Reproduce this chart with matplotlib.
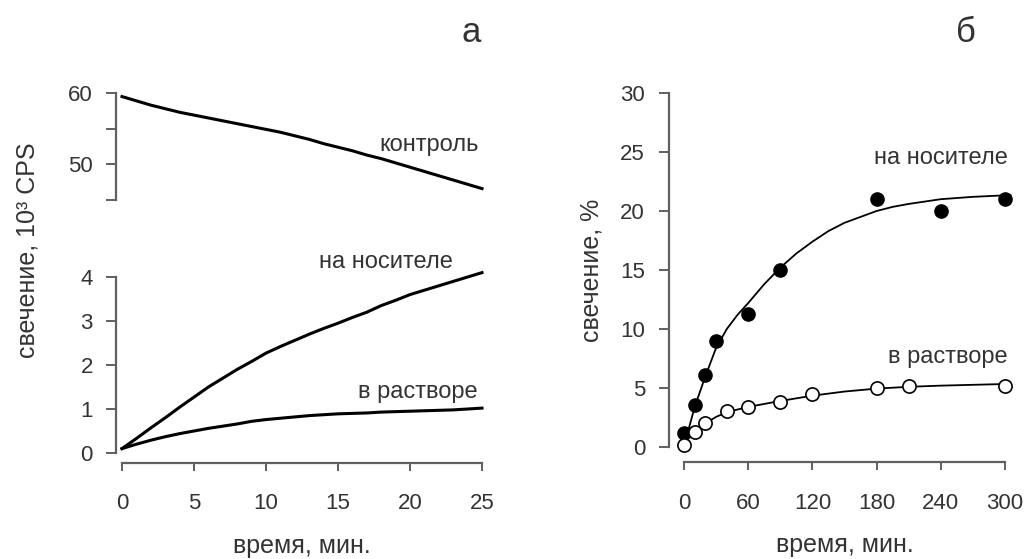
import numpy as np
import matplotlib
matplotlib.use("Agg")
import matplotlib.pyplot as plt

plt.rcParams['font.family'] = ['Liberation Sans', 'DejaVu Sans']

# панель а: запись свечения, каждые 1 мин
t_min = list(range(26))
control = [59.5, 58.9, 58.3, 57.8, 57.3, 56.9, 56.5, 56.1, 55.7, 55.3, 54.9,
           54.5, 54.0, 53.5, 52.9, 52.4, 51.9, 51.3, 50.8, 50.2, 49.6,
           49.0, 48.4, 47.8, 47.2, 46.6]
carrier = [0.1, 0.33, 0.57, 0.8, 1.04, 1.27, 1.5, 1.7, 1.9, 2.08, 2.27,
           2.42, 2.56, 2.7, 2.83, 2.95, 3.08, 3.2, 3.35, 3.47, 3.6,
           3.7, 3.8, 3.9, 4.0, 4.1]
solution = [0.1, 0.2, 0.29, 0.37, 0.44, 0.5, 0.56, 0.61, 0.66, 0.72, 0.76,
            0.79, 0.82, 0.85, 0.87, 0.89, 0.9, 0.91, 0.93, 0.94, 0.95,
            0.96, 0.97, 0.98, 1.0, 1.02]

# панель б: точки и сглаживающие кривые
t_pts_c = [0, 10, 20, 30, 60, 90, 180, 240, 300]
pts_c = [1.2, 3.6, 6.1, 9.0, 11.3, 15.0, 21.0, 20.0, 21.0]
t_pts_s = [0, 10, 20, 40, 60, 90, 120, 180, 210, 300]
pts_s = [0.2, 1.3, 2.0, 3.05, 3.4, 3.85, 4.5, 5.0, 5.2, 5.2]

t_fit_c = [1, 10, 20, 30, 40, 50, 60, 75, 90, 105, 120, 135, 150, 165, 180,
           195, 210, 225, 240, 270, 305]
fit_c = [0.4, 3.4, 6.0, 8.4, 10.0, 11.2, 12.2, 13.8, 15.2, 16.4, 17.4, 18.3,
         19.0, 19.5, 20.0, 20.35, 20.6, 20.8, 21.0, 21.2, 21.35]
t_fit_s = [0, 10, 20, 30, 40, 60, 90, 120, 150, 180, 210, 240, 270, 305]
fit_s = [0.4, 1.3, 2.0, 2.55, 2.95, 3.4, 3.9, 4.35, 4.7, 4.95, 5.1, 5.2,
         5.27, 5.35]

spine_col = '#606060'
text_col = '#333333'
tick_fs = 16
lab_fs = 18

fig = plt.figure(figsize=(10.28, 5.59), dpi=100)

def style(ax, left_out, bottom_out=None):
    for s in ['top', 'right']:
        ax.spines[s].set_visible(False)
    ax.spines['left'].set_position(('outward', left_out))
    ax.spines['left'].set_color(spine_col)
    ax.spines['left'].set_linewidth(1.6)
    if bottom_out is None:
        ax.spines['bottom'].set_visible(False)
        ax.tick_params(axis='x', bottom=False, labelbottom=False)
    else:
        ax.spines['bottom'].set_position(('outward', bottom_out))
        ax.spines['bottom'].set_color(spine_col)
        ax.spines['bottom'].set_linewidth(1.6)
    ax.tick_params(axis='y', direction='out', length=7, width=1.4,
                   color=spine_col, labelsize=tick_fs, labelcolor=text_col, pad=10)
    ax.tick_params(axis='x', direction='out', length=6, width=1.4,
                   color=spine_col, labelsize=tick_fs, labelcolor=text_col, pad=16)
    ax.set_facecolor('none')

# верх: контроль
ax1 = fig.add_axes([122/1028, 359/559, 360/1028, 107/559])
ax1.plot(t_min, control, color='black', lw=2.2, clip_on=False)
ax1.set_xlim(0, 25)
ax1.set_ylim(45, 60)
ax1.set_yticks([45, 50, 55, 60])
ax1.set_yticklabels(['', '50', '', '60'])
style(ax1, 4)
ax1.text(24.8, 52.7, 'контроль', ha='right', va='center', fontsize=17, color=text_col)

# низ: на носителе / в растворе
ax2 = fig.add_axes([122/1028, 106/559, 360/1028, 176/559])
ax2.plot(t_min, carrier, color='black', lw=2.2, clip_on=False)
ax2.plot(t_min, solution, color='black', lw=2.2, clip_on=False)
ax2.set_xlim(0, 25)
ax2.set_ylim(0, 4)
ax2.set_yticks([0, 1, 2, 3, 4])
ax2.set_xticks([0, 5, 10, 15, 20, 25])
style(ax2, 4, 7)
ax2.text(23.0, 4.34, 'на носителе', ha='right', va='center', fontsize=17, color=text_col)
ax2.text(24.7, 1.39, 'в растворе', ha='right', va='center', fontsize=17, color=text_col)
ax2.set_xlabel('время, мин.', fontsize=lab_fs, color=text_col, labelpad=14)

fig.text(28/1028, 1 - 250/559, 'свечение, 10³ CPS', rotation=90, ha='center',
         va='center', fontsize=lab_fs, color=text_col)

# панель б
ax3 = fig.add_axes([684/1028, 112/559, 321/1028, 354/559])
ax3.plot(t_fit_c, fit_c, color='black', lw=1.3, clip_on=False)
ax3.plot(t_fit_s, fit_s, color='black', lw=1.3, clip_on=False)
ax3.plot(t_pts_c, pts_c, 'o', color='black', ms=9.5, clip_on=False, zorder=3)
ax3.plot(t_pts_s, pts_s, 'o', mfc='white', mec='black', mew=1.2, ms=9.5,
         clip_on=False, zorder=3)
ax3.set_xlim(0, 300)
ax3.set_ylim(0, 30)
ax3.set_xticks([0, 60, 120, 180, 240, 300])
ax3.set_yticks([0, 5, 10, 15, 20, 25, 30])
style(ax3, 11, 11)
ax3.text(303, 24.5, 'на носителе', ha='right', va='center', fontsize=17, color=text_col)
ax3.text(302, 7.6, 'в растворе', ha='right', va='center', fontsize=17, color=text_col)
ax3.set_xlabel('время, мин.', fontsize=lab_fs, color=text_col, labelpad=14)
ax3.set_ylabel('свечение, %', fontsize=lab_fs, color=text_col, labelpad=12)

fig.text(471/1028, 1 - 42/559, 'а', ha='center', va='baseline', fontsize=25, color=text_col)
fig.text(966/1028, 1 - 42/559, 'б', ha='center', va='baseline', fontsize=25, color=text_col)

fig.savefig('out.png', dpi=100, facecolor='white')
